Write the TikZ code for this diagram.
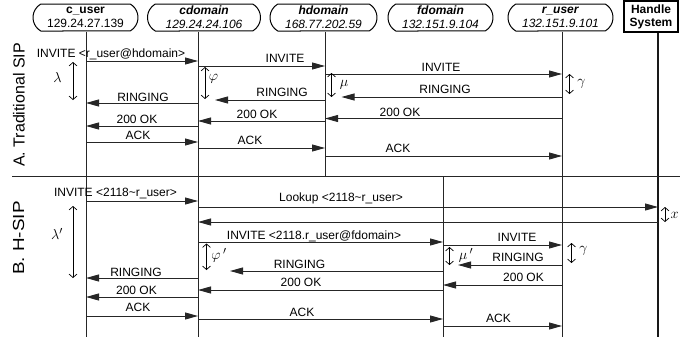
\documentclass[tikz,border=0pt]{standalone}
\usepackage{fontspec}
\setmainfont{Liberation Sans}
\usetikzlibrary{arrows.meta,shapes.misc}
\begin{document}
\begin{tikzpicture}[x=1pt,y=-1pt,
  lbl/.style={font=\fontsize{12}{14}\selectfont, inner sep=0pt, anchor=base},
  box/.style={draw, line width=1pt, rounded rectangle, rounded rectangle arc length=120,
    minimum width=#1, minimum height=27pt, inner sep=0pt, align=center,
    font=\fontsize{12}{14}\selectfont},
  life/.style={line width=0.8pt, black!85},
  msg/.style={line width=0.9pt, black!85, -{Triangle[length=13pt,width=7pt]}},
  gapmark/.style={line width=0.7pt, {Straight Barb[length=3.5pt,width=8pt]}-{Straight Barb[length=3.5pt,width=8pt]}},
  greek/.style={font=\fontsize{15}{15}\selectfont, inner sep=0pt},
  side/.style={font=\fontsize{16}{16}\selectfont, inner sep=0pt, rotate=90},
]
\useasboundingbox (0,0) rectangle (680,340);

% header boxes
\node[box=105pt] (cu) at (85.5,17.5) {\textbf{c\_user}\\129.24.27.139};
\node[box=113pt] (cd) at (204,17.5) {\textbf{\textit{cdomain}}\\\textit{129.24.24.106}};
\node[box=107pt] (hd) at (323.5,17.5) {\textbf{\textit{hdomain}}\\\textit{168.77.202.59}};
\node[box=105pt] (fd) at (440.5,17.5) {\textbf{\textit{fdomain}}\\\textit{132.151.9.104}};
\node[box=105pt] (ru) at (560.5,17.5) {\textbf{\textit{r\_user}}\\\textit{132.151.9.101}};
\node[draw, line width=1.4pt, minimum width=54pt, minimum height=31pt, inner sep=0pt,
  align=center, font=\bfseries\fontsize{12}{13}\selectfont] (hs) at (651,16.5) {Handle\\System};

% lifeline x positions
\coordinate (cuX) at (86,0);
\coordinate (cdX) at (198,0);
\coordinate (hdX) at (325,0);
\coordinate (fdX) at (443,0);
\coordinate (ruX) at (562,0);
\coordinate (hsX) at (658,0);

% lifelines
\draw[life] (cuX |- cu.south) -- (cuX |- 0,337);
\draw[life] (cdX |- cd.south) -- (cdX |- 0,337);
\draw[life] (hdX |- hd.south) -- (hdX |- 0,176);
\draw[life] (fdX |- 0,176) -- (fdX |- 0,337);
\draw[life] (ruX |- ru.south) -- (ruX |- 0,337);
\draw[line width=1.3pt, black!90] (hsX |- hs.south) -- (hsX |- 0,337);

% separator
\coordinate (sepL) at (12,176);
\coordinate (sepR) at (680,176);
\draw[life] (sepL) -- (sepR);

% side labels
\node[side] (secA) at (19,105) {A. Traditional SIP};
\node[side] (secB) at (18.5,238) {\scalebox{1.18}[1]{B. H-SIP}};

% ---------- A. Traditional SIP ----------
\draw[msg] (cuX |- 0,61) -- (cdX |- 0,61);
\node[lbl] (a1) at (111,57) {INVITE <r\_user@hdomain>};
\draw[msg] (cdX |- 0,66) -- (hdX |- 0,66);
\node[lbl] (a2) at (285,62.5) {INVITE};
\draw[msg] (hdX |- 0,74) -- (ruX |- 0,74);
\node[lbl] (a3) at (441,71.5) {INVITE};
\coordinate (a4e) at (341.5,97);
\draw[msg] (ruX |- 0,97) -- (a4e);
\node[lbl] (a4) at (445,93) {RINGING};
\coordinate (a5e) at (215,100);
\draw[msg] (hdX |- 0,100) -- (a5e);
\node[lbl] (a5) at (282,96.5) {RINGING};
\draw[msg] (cdX |- 0,103) -- (cuX |- 0,103);
\node[lbl] (a6) at (143,101) {RINGING};
\draw[msg] (ruX |- 0,118.5) -- (hdX |- 0,118.5);
\node[lbl] (a7) at (400,116) {200 OK};
\draw[msg] (hdX |- 0,121) -- (cdX |- 0,121);
\node[lbl] (a8) at (257,118.5) {200 OK};
\draw[msg] (cdX |- 0,126) -- (cuX |- 0,126);
\node[lbl] (a9) at (137,123) {200 OK};
\draw[msg] (cuX |- 0,142) -- (cdX |- 0,142);
\node[lbl] (a10) at (138,139.5) {ACK};
\draw[msg] (cdX |- 0,148) -- (hdX |- 0,148);
\node[lbl] (a11) at (250,144.5) {ACK};
\draw[msg] (hdX |- 0,156) -- (ruX |- 0,156);
\node[lbl] (a12) at (398,152) {ACK};

% A markers
\coordinate (lamT) at (73,62); \coordinate (lamB) at (73,100);
\draw[gapmark] (lamT) -- (lamB);
\node[greek] (lam) at (57.5,77) {$\lambda$};
\coordinate (phiT) at (205,67); \coordinate (phiB) at (205,99);
\draw[gapmark] (phiT) -- (phiB);
\node[greek] (phi) at (213.5,79) {$\varphi$};
\coordinate (muT) at (331.5,73); \coordinate (muB) at (331.5,97);
\draw[gapmark] (muT) -- (muB);
\node[greek] (mu) at (344,85) {$\mu$};
\coordinate (gaT) at (569.5,74); \coordinate (gaB) at (569.5,94);
\draw[gapmark] (gaT) -- (gaB);
\node[greek] (ga) at (581.5,84) {$\gamma$};

% ---------- B. H-SIP ----------
\draw[msg] (cuX |- 0,201) -- (cdX |- 0,201);
\node[lbl] (b1) at (115.5,196.5) {INVITE <2118\textasciitilde r\_user>};
\draw[msg] (cdX |- 0,207) -- (hsX |- 0,207);
\node[lbl] (b2) at (341,201.5) {Lookup <2118\textasciitilde r\_user>};
\draw[msg] (hsX |- 0,222) -- (cdX |- 0,222);
\coordinate (xT) at (665,207); \coordinate (xB) at (665,222);
\draw[gapmark] (xT) -- (xB);
\node[greek] (xx) at (674.5,215) {$x$};
\draw[msg] (cdX |- 0,242) -- (fdX |- 0,242);
\node[lbl] (b4) at (314,239) {INVITE <2118.r\_user@fdomain>};
\draw[msg] (fdX |- 0,245) -- (ruX |- 0,245);
\node[lbl] (b5) at (517,241) {INVITE};
\coordinate (b6e) at (458,265);
\draw[msg] (ruX |- 0,265) -- (b6e);
\node[lbl] (b6) at (518,261.5) {RINGING};
\coordinate (b7e) at (230,271);
\draw[msg] (fdX |- 0,271) -- (b7e);
\node[lbl] (b7) at (299.5,268) {RINGING};
\draw[msg] (cdX |- 0,278) -- (cuX |- 0,278);
\node[lbl] (b8) at (136,276) {RINGING};
\draw[msg] (ruX |- 0,285) -- (fdX |- 0,285);
\node[lbl] (b9) at (523.5,281.5) {200 OK};
\draw[msg] (fdX |- 0,290) -- (cdX |- 0,290);
\node[lbl] (b10) at (301,286.5) {200 OK};
\draw[msg] (cdX |- 0,297) -- (cuX |- 0,297);
\node[lbl] (b11) at (136.5,294) {200 OK};
\draw[msg] (cuX |- 0,316) -- (cdX |- 0,316);
\node[lbl] (b12) at (138,311.5) {ACK};
\draw[msg] (cdX |- 0,319) -- (fdX |- 0,319);
\node[lbl] (b13) at (302,316.5) {ACK};
\draw[msg] (fdX |- 0,326) -- (ruX |- 0,326);
\node[lbl] (b14) at (498.5,322) {ACK};

% B markers
\coordinate (lam2T) at (73,206); \coordinate (lam2B) at (73,278);
\draw[gapmark] (lam2T) -- (lam2B);
\node[greek] (lam2) at (57,234) {$\lambda'$};
\coordinate (phi2T) at (206.5,243.5); \coordinate (phi2B) at (206.5,270);
\draw[gapmark] (phi2T) -- (phi2B);
\node[greek] (phi2) at (219,255) {$\varphi\,'$};
\coordinate (mu2T) at (449.5,247); \coordinate (mu2B) at (449.5,265);
\draw[gapmark] (mu2T) -- (mu2B);
\node[greek] (mu2) at (466,255) {$\mu\,'$};
\coordinate (ga2T) at (571.5,243); \coordinate (ga2B) at (571.5,263);
\draw[gapmark] (ga2T) -- (ga2B);
\node[greek] (ga2) at (583.5,251) {$\gamma$};
\end{tikzpicture}
\end{document}
